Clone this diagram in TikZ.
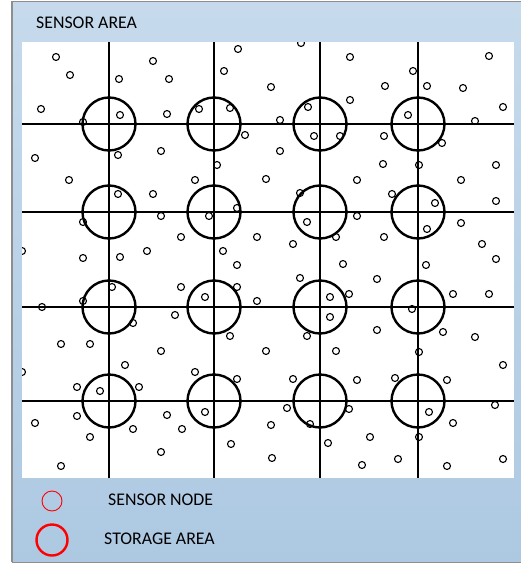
\documentclass[tikz,border=0pt]{standalone}
\usepackage{fontspec}
\setmainfont{Carlito}
\usepackage{xcolor}
\usetikzlibrary{positioning}

\definecolor{paneltop}{HTML}{C6DAEC}
\definecolor{panelbot}{HTML}{ADC9E2}
\definecolor{panelrule}{HTML}{8E8E8E}

\begin{document}
\begin{tikzpicture}[x=1pt, y=-1pt,
    storage/.style={circle, draw, line width=2.4pt, minimum size=53pt, inner sep=0pt},
    sensor/.style={circle, draw, line width=1.1pt, minimum size=7pt, inner sep=0pt},
    gridline/.style={line width=1.9pt},
    label/.style={inner sep=0pt, font=\fontsize{17.8}{20}\selectfont}]
    \useasboundingbox (0,0) rectangle (521,565);

    % Panel
    \fill[top color=paneltop, bottom color=panelbot] (12,1.5) rectangle (523,562);
    \draw[panelrule, line width=1.5pt] (12,562) -- (12,1.5) -- (523,1.5);
    \draw[panelrule, line width=1pt] (12,562) -- (523,562);
    \fill[white] (22,42) rectangle (514,478);
    \node[label, anchor=west] (title) at (36,22.5) {SENSOR AREA};

    \begin{scope}
    \clip (22,42) rectangle (514,478);
    % Grid
    \foreach \x [count=\i] in {109,214,320,418} {
      \coordinate (top-\i) at (\x,42);
      \coordinate (bot-\i) at (\x,478);
      \draw[gridline] (top-\i) -- (bot-\i);
    }
    \foreach \y [count=\j] in {124,212,307,401} {
      \coordinate (left-\j) at (22,\y);
      \coordinate (right-\j) at (514,\y);
      \draw[gridline] (left-\j) -- (right-\j);
    }

    % Storage areas
    \foreach \x [count=\i] in {109,214,320,418}
      \foreach \y [count=\j] in {124,212,307,401}
        \node[storage] (st-\i-\j) at (\x,\y) {};

    % Sensor nodes
    \foreach \x/\y [count=\k] in {
      56/57, 70/75, 119/79, 153/61, 169/79, 238/49, 224/71, 41/109,
      120/115, 167/114, 199/109, 230/108, 245/135, 83/122,
      301/43, 350/57, 413/71, 489/56, 271/87, 385/86, 427/86, 463/88,
      350/100, 308/107, 503/107, 280/120, 408/115, 475/121, 314/136,
      340/136, 384/136,
      35/158, 161/151, 118/155, 217/165, 69/180, 195/180, 118/194,
      153/194, 237/208, 83/222, 161/216, 209/216, 181/237, 257/237,
      22/251, 147/251, 83/258, 120/257, 223/251, 237/265, 181/287,
      237/287, 112/287, 205/297, 83/301, 42/307, 257/301,
      280/151, 266/179, 357/180, 383/164, 419/165, 442/143, 496/165,
      461/180, 300/193, 392/194, 435/203, 496/201, 307/222, 357/216,
      336/237, 384/237, 427/229, 461/223, 293/244, 482/244, 496/259,
      343/264, 426/265, 300/278, 377/279, 330/297, 349/294, 453/294,
      489/294,
      175/315, 133/323, 61/344, 90/344, 161/351, 230/336, 22/372,
      125/365, 77/387, 100/391, 139/387, 195/372, 237/379, 77/416,
      35/423, 133/429, 90/437, 167/415, 182/429, 205/412, 161/452,
      231/444, 61/466,
      330/317, 307/336, 377/330, 266/351, 336/351, 412/309, 443/332,
      475/337, 419/352, 503/365, 293/379, 357/380, 395/378, 447/380,
      287/408, 349/409, 310/424, 271/425, 429/412, 453/423, 495/405,
      328/443, 370/437, 419/437, 272/458, 362/465, 398/459, 447/466,
      503/459}
      \node[sensor] (sn-\k) at (\x,\y) {};
    \end{scope}

    % Legend
    \node[circle, draw=red, line width=0.9pt, minimum size=20pt, inner sep=0pt] (key-sensor) at (52,501) {};
    \node[circle, draw=red, line width=2.4pt, minimum size=31pt, inner sep=0pt] (key-storage) at (52,540) {};
    \node[label, anchor=west] (key-sensor-text) at (108,500) {SENSOR NODE};
    \node[label, anchor=west] (key-storage-text) at (104,539) {STORAGE AREA};
\end{tikzpicture}
\end{document}
